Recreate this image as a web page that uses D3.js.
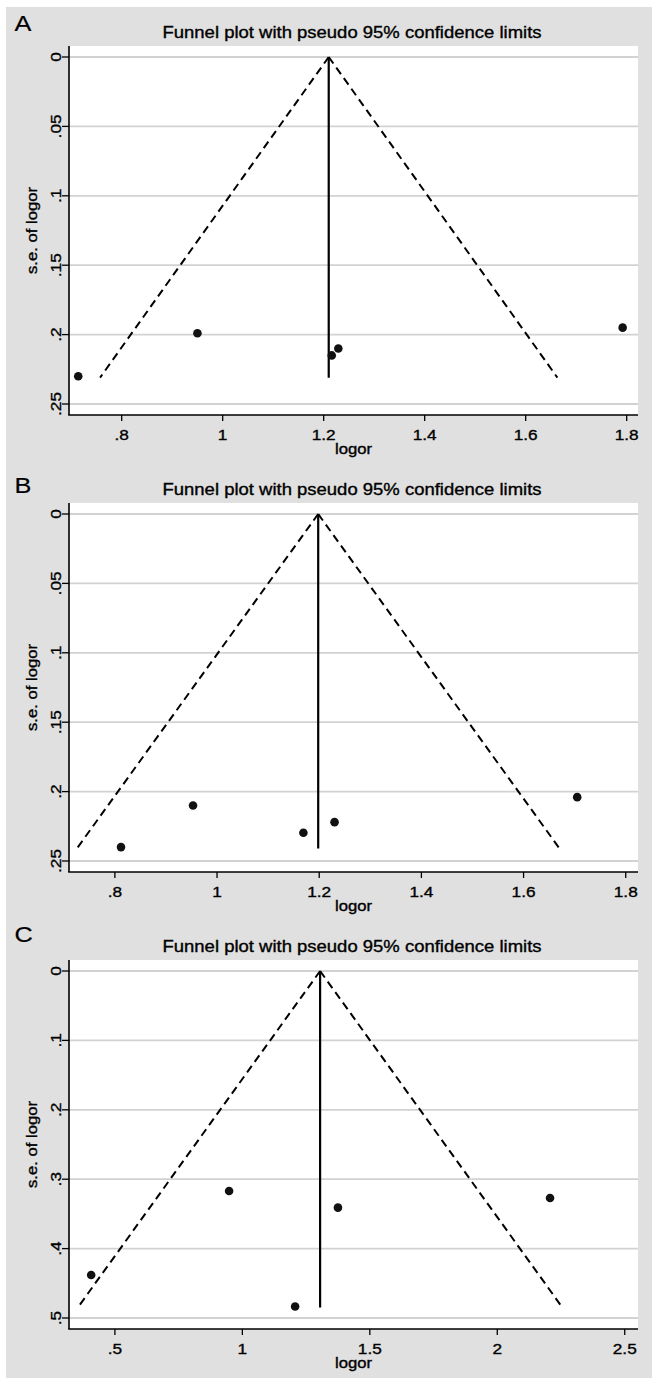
<!DOCTYPE html>
<html><head><meta charset="utf-8">
<script src="https://cdn.jsdelivr.net/npm/d3@7"></script>
<style>html,body{margin:0;padding:0;background:#fff;}svg{display:block;}</style>
</head><body>
<svg id="chart" width="658" height="1385"></svg>
<script>
// ---- data ----
const panelLetters = ["A", "B", "C"];
const titleText = "Funnel plot with pseudo 95% confidence limits";
const xLabel = "logor";
const yLabel = "s.e. of logor";

const logorA = [0.714, 0.950, 1.216, 1.229, 1.792];
const seA    = [0.230, 0.199, 0.215, 0.210, 0.195];
const pooledA = 1.21, maxSeA = 0.231;
const xTicksA = [0.8, 1, 1.2, 1.4, 1.6, 1.8];
const yTicksA = [0, 0.05, 0.1, 0.15, 0.2, 0.25];

const logorB = [0.812, 0.953, 1.169, 1.230, 1.705];
const seB    = [0.240, 0.210, 0.2296, 0.222, 0.204];
const pooledB = 1.198, maxSeB = 0.241;
const xTicksB = [0.8, 1, 1.2, 1.4, 1.6, 1.8];
const yTicksB = [0, 0.05, 0.1, 0.15, 0.2, 0.25];

const logorC = [0.407, 0.948, 1.207, 1.375, 2.207];
const seC    = [0.438, 0.317, 0.4835, 0.341, 0.327];
const pooledC = 1.305, maxSeC = 0.485;
const xTicksC = [0.5, 1, 1.5, 2, 2.5];
const yTicksC = [0, 0.1, 0.2, 0.3, 0.4, 0.5];

const panels = [
  {letter: panelLetters[0], logor: logorA, se: seA, pooled: pooledA, maxSe: maxSeA, xTicks: xTicksA, yTicks: yTicksA, xDom: [0.6957, 1.8224], top: 46, letterY: 30.7},
  {letter: panelLetters[1], logor: logorB, se: seB, pooled: pooledB, maxSe: maxSeB, xTicks: xTicksB, yTicks: yTicksB, xDom: [0.7102, 1.824], top: 503, letterY: 493},
  {letter: panelLetters[2], logor: logorC, se: seC, pooled: pooledC, maxSe: maxSeC, xTicks: xTicksC, yTicks: yTicksC, xDom: [0.32, 2.552], top: 960, letterY: 942}
];

// ---- drawing ----
const svg = d3.select("#chart");
const FONT = "'Liberation Sans', Arial, Helvetica, sans-serif";
const SX = 1.15;
const gridCol = "#d2d2d2";

svg.append("rect").attr("x", 6).attr("y", 7).attr("width", 646).attr("height", 1371).attr("fill", "#e0e0e0");

const fmt = v => v === 0 ? "0" : String(+v.toFixed(3)).replace(/^0\./, ".");

function stretchedText(parent, x, y, str, size, opts = {}) {
  const g = parent.append("g").attr("transform", `translate(${x},${y})` + (opts.rotate ? " rotate(-90)" : ""));
  g.append("text").attr("transform", `scale(${opts.sx || SX},1)`)
    .attr("text-anchor", opts.anchor || "middle")
    .attr("font-family", FONT).attr("font-size", size).attr("fill", "#000")
    .attr("stroke", "#000").attr("stroke-width", opts.sw == null ? 0.35 : opts.sw)
    .text(str);
  return g;
}

const left = 69, right = 638;

panels.forEach(p => {
  const T = p.top;
  const bottom = T + 369;
  const yMax = p.yTicks[p.yTicks.length - 1];
  const x = d3.scaleLinear().domain(p.xDom).range([left, right]);
  const y = d3.scaleLinear().domain([0, yMax]).range([T + 11, T + 358]);
  const g = svg.append("g");

  // plot region
  g.append("rect").attr("x", left).attr("y", T).attr("width", right - left).attr("height", bottom - T).attr("fill", "#fff");

  // gridlines
  g.selectAll(".grid").data(p.yTicks).enter().append("line")
    .attr("x1", left).attr("x2", right)
    .attr("y1", d => y(d)).attr("y2", d => y(d))
    .attr("stroke", gridCol).attr("stroke-width", 1.8);

  // funnel (dashed)
  const z = 1.96 * p.maxSe;
  const funnel = [
    [[p.pooled, 0], [p.pooled - z, p.maxSe]],
    [[p.pooled, 0], [p.pooled + z, p.maxSe]]
  ];
  const line = d3.line().x(d => x(d[0])).y(d => y(d[1]));
  funnel.forEach(seg => {
    g.append("path").attr("d", line(seg)).attr("fill", "none")
      .attr("stroke", "#000").attr("stroke-width", 2).attr("stroke-dasharray", "8,5");
  });
  // pooled estimate vertical line
  g.append("path").attr("d", line([[p.pooled, 0], [p.pooled, p.maxSe]]))
    .attr("stroke", "#000").attr("stroke-width", 2.2).attr("fill", "none");

  // points
  g.selectAll(".pt").data(p.logor.map((v, i) => [v, p.se[i]])).enter().append("circle")
    .attr("cx", d => x(d[0])).attr("cy", d => y(d[1])).attr("r", 4.3).attr("fill", "#111");

  // axes
  g.append("line").attr("x1", left).attr("x2", left).attr("y1", T).attr("y2", bottom)
    .attr("stroke", "#000").attr("stroke-width", 1.6);
  g.append("line").attr("x1", left - 0.8).attr("x2", right).attr("y1", bottom).attr("y2", bottom)
    .attr("stroke", "#000").attr("stroke-width", 1.6);

  // y ticks + labels
  p.yTicks.forEach(t => {
    g.append("line").attr("x1", left - 7).attr("x2", left).attr("y1", y(t)).attr("y2", y(t))
      .attr("stroke", "#000").attr("stroke-width", 1.3);
    stretchedText(g, 60.5, y(t), fmt(t), 15, {rotate: true});
  });
  // x ticks + labels
  p.xTicks.forEach(t => {
    g.append("line").attr("x1", x(t)).attr("x2", x(t)).attr("y1", bottom).attr("y2", bottom + 6)
      .attr("stroke", "#000").attr("stroke-width", 1.3);
    stretchedText(g, x(t), bottom + 25, fmt(t), 15);
  });

  // axis titles
  stretchedText(g, (left + right) / 2, bottom + 39, xLabel, 14.5);
  stretchedText(g, 37, (T + bottom) / 2, yLabel, 14.5, {rotate: true});

  // chart title
  stretchedText(g, 352, T - 8.5, titleText, 15.8, {sx: 1.17});

  // panel letter
  stretchedText(g, 14.5, p.letterY, p.letter, 22, {anchor: "start", sw: 0.2});
});
</script>
</body></html>
